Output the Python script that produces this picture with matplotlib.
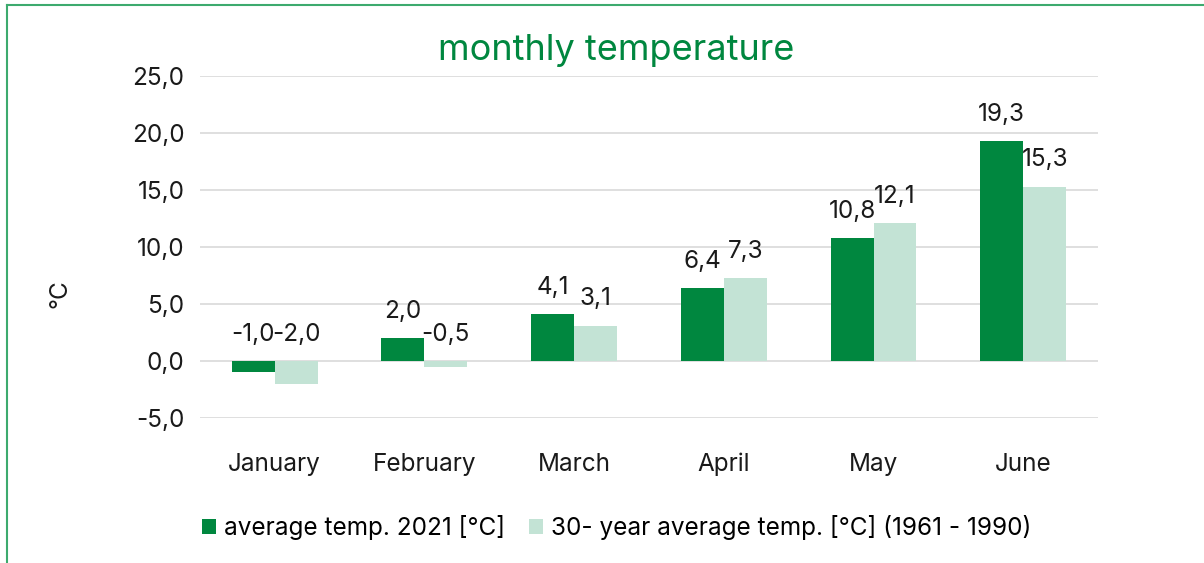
import matplotlib
matplotlib.use('Agg')
from matplotlib import pyplot as plt
from matplotlib.lines import Line2D
import numpy as np

plt.rcParams['font.family'] = ['Inter', 'DejaVu Sans']

months = ['January', 'February', 'March', 'April', 'May', 'June']
temp_2021 = [-1.0, 2.0, 4.1, 6.4, 10.8, 19.3]
temp_30y = [-2.0, -0.5, 3.1, 7.3, 12.1, 15.3]
series_names = ['average temp. 2021 [°C]',
                '30- year average temp. [°C] (1961 - 1990)']
y_ticks = [-5, 0, 5, 10, 15, 20, 25]

dark = '#00873F'
light = '#C3E3D5'

fig = plt.figure(figsize=(12.04, 5.63), dpi=100)
ax = fig.add_axes([0.166, 0.2575, 0.746, 0.6075])

x = np.arange(len(months))
w = 0.287
b1 = ax.bar(x - w / 2, temp_2021, w, color=dark, label=series_names[0], zorder=2)
b2 = ax.bar(x + w / 2, temp_30y, w, color=light, label=series_names[1], zorder=2)

# Datenlabels
for bars, vals in ((b1, temp_2021), (b2, temp_30y)):
    for rect, v in zip(bars, vals):
        cx = rect.get_x() + rect.get_width() / 2
        y = max(v, 0)
        ax.annotate(f'{v:.1f}'.replace('.', ','), (cx, y), xytext=(0, 11),
                    textcoords='offset points', ha='center', va='bottom',
                    fontsize=17.5, color='#1a1a1a')

ax.set_xlim(-0.5, len(months) - 0.5)
ax.set_ylim(-5, 25)
ax.set_yticks(y_ticks)
ax.set_yticklabels([f'{t:.1f}'.replace('.', ',') for t in y_ticks])
ax.set_xticks(x)
ax.set_xticklabels(months)
ax.tick_params(axis='both', length=0, labelsize=17.5, colors='#1a1a1a')
ax.tick_params(axis='y', pad=11)
ax.tick_params(axis='x', pad=25)
ax.grid(axis='y', color='#d9d9d9', linewidth=1.2, zorder=0)
for s in ax.spines.values():
    s.set_visible(False)

fig.text(0.05, 0.478, '°C', rotation=90, ha='center', va='center',
         fontsize=17.5, color='#1a1a1a')
fig.text(0.512, 0.91, 'monthly temperature', ha='center', va='center',
         fontsize=26, color=dark)

fig.legend(loc='center', bbox_to_anchor=(0.512, 0.063), ncol=2, frameon=False,
           fontsize=17.5, handlelength=0.6, handleheight=0.6, handletextpad=0.3,
           columnspacing=1.0)

# Rahmen
fig.add_artist(Line2D([0.0055, 0.0055], [0, 0.992], transform=fig.transFigure,
                      color='#3DAA6E', linewidth=1.5))
fig.add_artist(Line2D([0.0055, 1], [0.992, 0.992], transform=fig.transFigure,
                      color='#3DAA6E', linewidth=1.5))

fig.savefig('out.png', dpi=100)
